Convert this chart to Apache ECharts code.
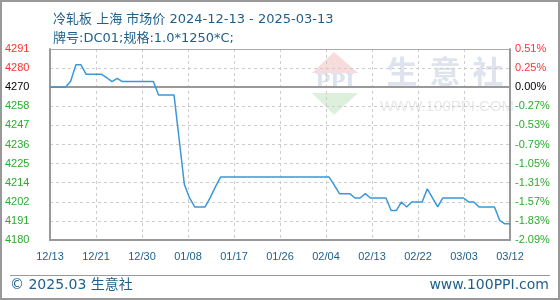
<!DOCTYPE html>
<html><head><meta charset="utf-8">
<script src="https://cdn.jsdelivr.net/npm/echarts@6/dist/echarts.min.js"></script>
<style>html,body{margin:0;padding:0;background:#fff}#c{width:560px;height:300px}</style>
</head><body><div id="c"></div>
<script>
// ---- data ----
const xLabels = ['12/13','12/21','12/30','01/08','01/17','01/26','02/04','02/13','02/22','03/03','03/12'];
// daily prices from 2024-12-13 (index 0) to 2025-03-12 (index 89)
const prices = [
  4270, 4270, 4270, 4270, 4273.5, 4283, 4283, 4277.5, 4277.5, 4277.5,
  4277.5, 4275.5, 4273.3, 4275.2, 4273.3, 4273.3, 4273.3, 4273.3, 4273.3, 4273.3,
  4273.3, 4265.4, 4265.4, 4265.4, 4265.4, 4239.4, 4213.3, 4205.5, 4200.3, 4200.3,
  4200.3, 4205.7, 4212, 4217.7, 4217.7, 4217.7, 4217.7, 4217.7, 4217.7, 4217.7,
  4217.7, 4217.7, 4217.7, 4217.7, 4217.7, 4217.7, 4217.7, 4217.7, 4217.7, 4217.7,
  4217.7, 4217.7, 4217.7, 4217.7, 4217.7, 4213, 4208, 4208, 4208, 4205.5,
  4205.5, 4208, 4205.5, 4205.5, 4205.5, 4205.5, 4198.2, 4198.2, 4203.2, 4200.3,
  4203.2, 4203.2, 4203.2, 4210.8, 4205.5, 4200.3, 4205.5, 4205.5, 4205.5, 4205.5,
  4205.5, 4203.2, 4203.2, 4200.3, 4200.3, 4200.3, 4200.3, 4192.5, 4190.5, 4190.5
];
const priceLabels = ['4180','4191','4202','4214','4225','4236','4247','4258','4270','4280','4291'];
const pctLabels = ['-2.09%','-1.83%','-1.57%','-1.31%','-1.05%','-0.79%','-0.53%','-0.27%','0.00%','0.25%','0.51%'];
const basePrice = 4270;
const titleText = '冷轧板 上海 市场价 2024-12-13 - 2025-03-13';
const subText = '牌号:DC01;规格:1.0*1250*C;';

// ---- chart ----
const step = 11.12;
const baseIdx = 8;
const yMin = basePrice - baseIdx * step;
const yMax = basePrice + (priceLabels.length - 1 - baseIdx) * step;
const xMax = prices.length - 1;
const xStep = xMax / (xLabels.length - 1);
function yIdx(v){ return Math.round((Number(v) - yMin) / step); }
function yColor(v){ const i = yIdx(v); return i > baseIdx ? '#ff3333' : (i === baseIdx ? '#000000' : '#2eaa2e'); }
const blue = '#1d5f8a';
const font = '"Liberation Sans", Arial, sans-serif';

const chart = echarts.init(document.getElementById('c'), null, {renderer:'canvas'});
chart.setOption({
  animation: false,
  backgroundColor: '#fff',
  title: [
    {text: titleText, left: 48, top: 8, textStyle:{fontSize:13, fontWeight:'normal', color: blue, fontFamily:'"DejaVu Sans","Noto Sans CJK SC",sans-serif'}},
    {text: subText, left: 48, top: 27, textStyle:{fontSize:13, fontWeight:'normal', color: blue, fontFamily:'"DejaVu Sans","Noto Sans CJK SC",sans-serif'}}
  ],
  grid: {left: 50, right: 50, top: 49, bottom: 60, containLabel: false},
  xAxis: {
    type: 'value', min: 0, max: xMax, interval: xStep,
    axisLine: {show: true, lineStyle: {color: '#999', width: 2}},
    axisTick: {show: false},
    splitLine: {show: true, lineStyle: {color: '#ccc', type: [3,3], width: 1}},
    axisLabel: {
      margin: 11, fontSize: 11, color: blue, fontFamily: font,
      showMinLabel: true, showMaxLabel: true,
      formatter: function(v){ return xLabels[Math.round(v / xStep)]; }
    }
  },
  yAxis: [
    {
      type: 'value', min: yMin, max: yMax, interval: step, position: 'left',
      axisLine: {show: true, lineStyle: {color: '#999', width: 2}},
      axisTick: {show: false},
      splitLine: {show: true, lineStyle: {color: '#ccc', type: [3,3], width: 1}},
      axisLabel: {
        align: 'left', margin: 45, fontSize: 11, fontFamily: font,
        showMinLabel: true, showMaxLabel: true,
        color: yColor,
        formatter: function(v){ return priceLabels[yIdx(v)]; }
      }
    },
    {
      type: 'value', min: yMin, max: yMax, interval: step, position: 'right',
      axisLine: {show: true, lineStyle: {color: '#999', width: 2}},
      axisTick: {show: false},
      splitLine: {show: false},
      axisLabel: {
        align: 'left', margin: 5, fontSize: 11, fontFamily: font,
        showMinLabel: true, showMaxLabel: true,
        color: yColor,
        formatter: function(v){ return pctLabels[yIdx(v)]; }
      }
    }
  ],
  graphic: [
    {type:'rect', z: 100, silent:true, shape:{x:1, y:1, width:558, height:298}, style:{fill:'none', stroke:'#999', lineWidth:2}},
    {type:'line', z: 100, silent:true, shape:{x1:10, y1:275.5, x2:550, y2:275.5}, style:{stroke:'#999', lineWidth:1}},
    {type:'line', z: 1, silent:true, shape:{x1:50, y1:49.5, x2:510, y2:49.5}, style:{stroke:'#aaa', lineWidth:1}},
    {type:'text', z: 100, silent:true, x: 10, y: 285, style:{text:'© 2025.03 生意社', fill: blue, font:'14px "DejaVu Sans","Noto Sans CJK SC",sans-serif', textVerticalAlign:'middle', textAlign:'left'}},
    {type:'text', z: 100, silent:true, x: 549, y: 285, style:{text:'www.100PPI.com', fill: blue, font:'14px "DejaVu Sans",sans-serif', textVerticalAlign:'middle', textAlign:'right'}},
    // watermark
    {type:'polygon', z: 0, silent:true, shape:{points:[[334,52],[312,73],[358,73]]}, style:{fill:'#f8dcdc'}},
    {type:'text', z: 0, silent:true, x: 335, y: 83, style:{text:'PPI', fill:'#dce2ee', font:'bold 20px "DejaVu Serif",serif', textAlign:'center', textVerticalAlign:'middle'}},
    {type:'polygon', z: 0, silent:true, shape:{points:[[312,93],[358,93],[334,115]]}, style:{fill:'#dcf0dc'}},
    {type:'text', z: 0, silent:true, x: 402, y: 71, style:{text:'生', fill:'#dfe3ee', font:'bold 31px "Noto Sans CJK SC",sans-serif', textAlign:'center', textVerticalAlign:'middle'}},
    {type:'text', z: 0, silent:true, x: 445, y: 71, style:{text:'意', fill:'#dfe3ee', font:'bold 31px "Noto Sans CJK SC",sans-serif', textAlign:'center', textVerticalAlign:'middle'}},
    {type:'text', z: 0, silent:true, x: 488, y: 71, style:{text:'社', fill:'#dfe3ee', font:'bold 31px "Noto Sans CJK SC",sans-serif', textAlign:'center', textVerticalAlign:'middle'}},
    {type:'text', z: 0, silent:true, x: 447, y: 107, style:{text:'WWW.100PPI.COM', fill:'#e8e8e8', font:'15px "Liberation Sans",sans-serif', textAlign:'center', textVerticalAlign:'middle'}}
  ],
  series: [{
    type: 'line',
    data: prices.map(function(p, i){ return [i, p]; }),
    showSymbol: false, symbol: 'none',
    lineStyle: {color: '#3a98d8', width: 1.5},
    z: 5,
    markLine: {
      silent: true, symbol: ['none','none'], label: {show:false},
      lineStyle: {color:'#999', type:'solid', width: 2},
      data: [{yAxis: basePrice}]
    }
  }]
});
</script></body></html>
